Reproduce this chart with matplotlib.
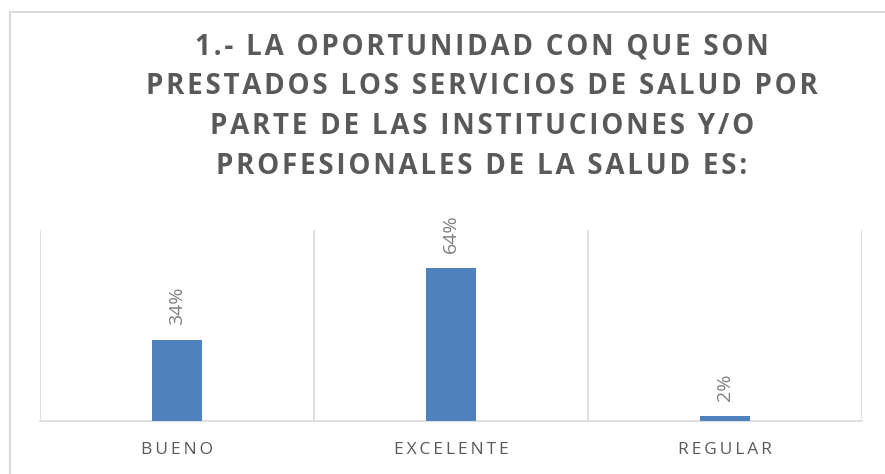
import numpy as np
import matplotlib.pyplot as plt
from matplotlib.patches import Rectangle

categories = ['BUENO', 'EXCELENTE', 'REGULAR']
values = [34, 64, 2]
labels = ['34%', '64%', '2%']
title_lines = ['1.- LA OPORTUNIDAD CON QUE SON',
               'PRESTADOS LOS SERVICIOS DE SALUD POR',
               'PARTE DE LAS INSTITUCIONES Y/O',
               'PROFESIONALES DE LA SALUD ES:']

W, H = 885, 474
fig = plt.figure(figsize=(W / 100, H / 100), dpi=100)

# chart frame (cut off at right and bottom, as in the reference)
fig.patches.append(Rectangle((10 / W, -0.1), 1.2, 1 - 12 / H + 0.1,
                             transform=fig.transFigure, fill=False,
                             edgecolor='#d9d9d9', linewidth=1.5))

ax = fig.add_axes([40 / W, 1 - 421 / H, (862 - 40) / W, (421 - 230) / H])
x = np.arange(len(categories))
bars = ax.bar(x, values, width=0.18, color='#4f81bd', zorder=3)

ax.set_xlim(-0.5, len(categories) - 0.5)
ax.set_ylim(0, 80)
for b in np.arange(-0.5, len(categories), 1.0):
    ax.axvline(b, color='#d9d9d9', linewidth=1.2, zorder=1)
for s in ['left', 'right', 'top']:
    ax.spines[s].set_visible(False)
ax.spines['bottom'].set_color('#d9d9d9')
ax.spines['bottom'].set_linewidth(1.2)
ax.set_yticks([])
ax.set_xticks(x)
ax.set_xticklabels(['\u2009'.join(c) for c in categories],
                   fontsize=12.5, color='#595959',
                   family=['Open Sans', 'DejaVu Sans'])
ax.tick_params(axis='x', length=0, pad=15)

for rect, lab in zip(bars, labels):
    ax.annotate(lab, (rect.get_x() + rect.get_width() / 2, rect.get_height()),
                xytext=(0, 11), textcoords='offset points',
                rotation=90, ha='center', va='bottom',
                fontsize=14, color='#7f7f7f', family='Open Sans')

# title, with a little letter spacing
title = '\n'.join('\u200a'.join(line) for line in title_lines)
fig.text(482 / W, 1 - 107 / H, title, ha='center', va='center',
         fontsize=20, fontweight='bold', color='#595959',
         family=['Open Sans', 'DejaVu Sans'], linespacing=1.5)

fig.savefig('out.png', dpi=100)
